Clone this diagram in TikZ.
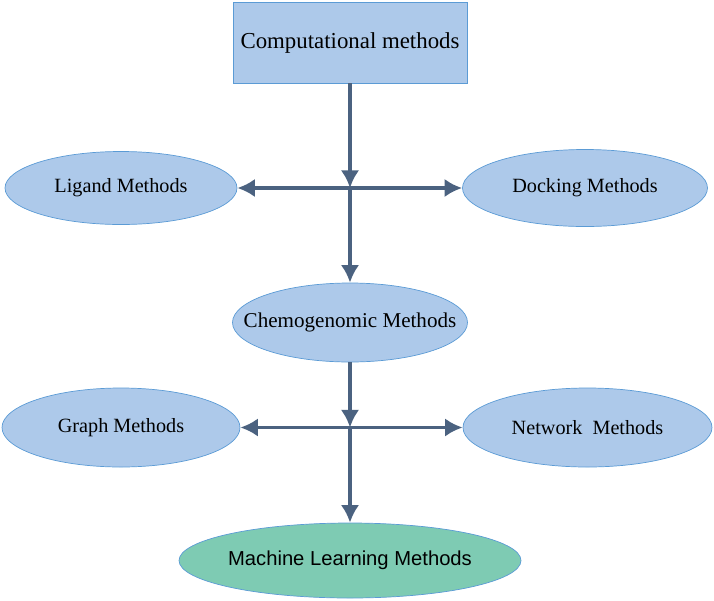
\documentclass[tikz,border=0pt]{standalone}
\usepackage{fontspec}
\setmainfont{Liberation Serif}
\setsansfont{Liberation Sans}
\usepackage{tikz}
\usetikzlibrary{arrows.meta,shapes.geometric}
\definecolor{boxblue}{HTML}{ADC9EA}
\definecolor{edgeblue}{HTML}{5B9BD5}
\definecolor{mlgreen}{HTML}{7ECBB3}
\definecolor{arr}{HTML}{4B6280}
\tikzset{m/.style={ellipse, draw=edgeblue, fill=boxblue, inner xsep=-0.8cm, inner ysep=-0.3cm, font=\fontsize{11.5}{14}\selectfont},
  a/.style={arr, line width=2.1pt, -{Latex[length=10pt,width=10.5pt]}}}

\begin{document}
\begin{tikzpicture}
    \useasboundingbox (0,0) rectangle (14.28,-12);
    \node[draw=edgeblue, fill=boxblue, minimum width=4.68cm, minimum height=1.62cm, font=\fontsize{13}{15}\selectfont](C) at (7.0,-0.85) {Computational methods};

    \node[m, minimum width=4.64cm, minimum height=1.46cm](L) at (2.42,-3.76) {Ligand Methods};
    \node[m, minimum width=4.9cm, minimum height=1.54cm](D) at (11.70,-3.76) {Docking Methods};
    \node[m, minimum width=4.7cm, minimum height=1.58cm, font=\fontsize{12}{14}\selectfont](G) at (7.0,-6.45) {Chemogenomic Methods};
    \node[m, minimum width=4.76cm, minimum height=1.58cm](P) at (2.42,-8.55) {Graph Methods};
    \node[m, minimum width=4.98cm, minimum height=1.58cm](N) at (11.75,-8.55) {Network~ Methods};
    \node[m, fill=mlgreen, minimum width=6.84cm, minimum height=1.5cm, font=\sffamily\fontsize{11.5}{14}\selectfont](M) at (7.0,-11.21) {Machine Learning Methods};

    \coordinate (J1) at (7.0,-3.76);
    \coordinate (J2) at (7.0,-8.55);

    % upper crossing
    \draw[a] (C) -- (J1);
    \draw[a] (J1) -- (L);
    \draw[a] (J1) -- (D);
    \draw[a] (J1) -- (G);
    % lower crossing
    \draw[a] (G) -- (J2);
    \draw[a] (J2) -- (P);
    \draw[a] (J2) -- (N);
    \draw[a] (J2) -- (M);
  \end{tikzpicture}
\end{document}
